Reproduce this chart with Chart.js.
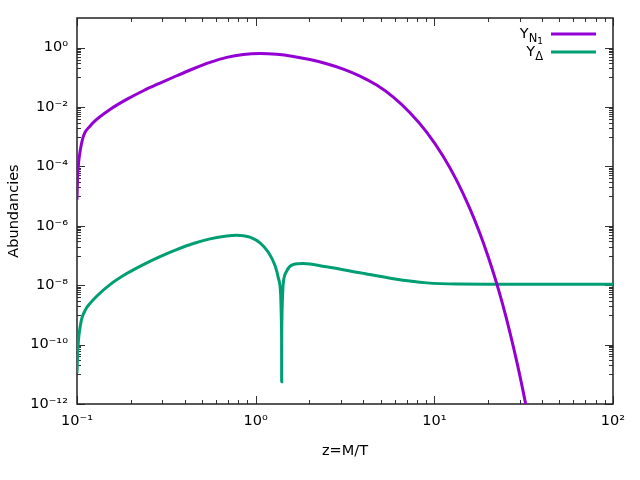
<!DOCTYPE html>
<html><head><meta charset="utf-8">
<script src="https://cdn.jsdelivr.net/npm/chart.js@4"></script>
<style>html,body{margin:0;padding:0;background:#fff}canvas{display:block}</style>
</head><body>
<canvas id="c" width="640" height="480"></canvas>
<script>
// ---- data ----
const zN = [0.1, 0.1008, 0.1018, 0.1031, 0.1086, 0.1183, 0.1288, 0.1530, 0.1897, 0.2351, 0.2915, 0.3613, 0.4479, 0.5552, 0.6882, 0.8531, 1.0573, 1.3106, 1.6246, 2.0137, 2.4962, 3.0942, 3.8355, 4.7544, 5.8935, 7.3053, 9.0557, 11.225, 13.332, 15.70, 17.91, 19.95, 22.18, 24.21, 26.42, 29.11, 31.99, 33.88];
const yN = [7.6e-6, 5.0e-5, 1.12e-4, 2.23e-4, 1.05e-3, 2.29e-3, 3.83e-3, 8.32e-3, 1.81e-2, 3.55e-2, 6.43e-2, 0.1135, 0.1955, 0.3195, 0.471, 0.594, 0.642, 0.602, 0.509, 0.398, 0.288, 0.1905, 0.1106, 0.055, 0.0217, 6.43e-3, 1.43e-3, 2.16e-4, 3.39e-5, 4.17e-6, 5.96e-7, 9.66e-8, 1.32e-8, 2.09e-9, 2.75e-10, 2.29e-11, 1.55e-12, 2.63e-13];
const zD = [0.1, 0.1008, 0.1022, 0.1045, 0.1066, 0.1116, 0.1183, 0.1289, 0.1530, 0.1897, 0.2351, 0.2915, 0.3613, 0.4479, 0.5552, 0.6882, 0.783, 0.8531, 0.929, 1.0573, 1.177, 1.283, 1.339, 1.380, 1.388, 1.394, 1.397, 1.398, 1.399, 1.402, 1.41, 1.418, 1.428, 1.491, 1.625, 1.848, 2.496, 3.836, 5.894, 9.056, 13.33, 20, 50, 100];
const yD = [1.12e-11, 5.0e-11, 1.7e-10, 4.47e-10, 7.94e-10, 1.51e-9, 2.45e-9, 4.27e-9, 1.05e-8, 2.47e-8, 4.97e-8, 9.25e-8, 1.59e-7, 2.54e-7, 3.64e-7, 4.54e-7, 4.78e-7, 4.66e-7, 4.15e-7, 2.67e-7, 1.29e-7, 4.6e-8, 1.77e-8, 4.84e-9, 1.58e-9, 5.0e-10, 1.26e-10, 5.6e-12, 1.26e-10, 6.3e-10, 2.8e-9, 6.3e-9, 1.2e-8, 2.97e-8, 4.97e-8, 5.37e-8, 4.17e-8, 2.63e-8, 1.66e-8, 1.2e-8, 1.09e-8, 1.08e-8, 1.08e-8, 1.08e-8];
const seriesLabels = ['Y_N1', 'Y_Δ'];
const seriesColors = ['#9400d3', '#009e73'];
const xTickValues = [0.1, 1, 10, 100];
const xTickLabels = ['10⁻¹', '10⁰', '10¹', '10²'];
const yTickValues = [1e-12, 1e-10, 1e-8, 1e-6, 1e-4, 1e-2, 1];
const yTickLabels = ['10⁻¹²', '10⁻¹⁰', '10⁻⁸', '10⁻⁶', '10⁻⁴', '10⁻²', '10⁰'];
const xTitle = 'z=M/T';
const yTitle = 'Abundancies';

const FONT = 'DejaVu Sans';

function pts(xs, ys){ return xs.map((x,i)=>({x:x, y:ys[i]})); }

// minor tick positions (axis decoration)
const xMinor = [];
for (let e=-1;e<2;e++) for (let k=2;k<=9;k++) xMinor.push(k*Math.pow(10,e));
const yMinor = [];
for (let e=-11;e<=-1;e+=2) for (let k=1;k<=9;k++) yMinor.push(k*Math.pow(10,e));

const frame = {
  id:'frame',
  beforeDatasetsDraw(chart){
    const {ctx, chartArea:a, scales:{x, y}} = chart;
    ctx.save();
    ctx.strokeStyle = '#333'; ctx.lineWidth = 1;
    ctx.beginPath();
    const tick = (px, len, vert) => {
      if (vert) {
        ctx.moveTo(px, a.bottom); ctx.lineTo(px, a.bottom-len);
        ctx.moveTo(px, a.top); ctx.lineTo(px, a.top+len);
      } else {
        ctx.moveTo(a.left, px); ctx.lineTo(a.left+len, px);
        ctx.moveTo(a.right, px); ctx.lineTo(a.right-len, px);
      }
    };
    xTickValues.forEach(v=>tick(Math.round(x.getPixelForValue(v))+0.5, 8, true));
    xMinor.forEach(v=>tick(Math.round(x.getPixelForValue(v))+0.5, 4, true));
    yTickValues.forEach(v=>tick(Math.round(y.getPixelForValue(v))+0.5, 8, false));
    yMinor.forEach(v=>tick(Math.round(y.getPixelForValue(v))+0.5, 4, false));
    ctx.stroke();
    ctx.lineWidth = 1.5; ctx.strokeStyle = '#222';
    ctx.strokeRect(a.left, a.top, a.right-a.left, a.bottom-a.top);
    ctx.restore();
  }
};

const legendPlugin = {
  id:'legendG',
  afterDraw(chart){
    const ctx = chart.ctx;
    ctx.save();
    const textRight = 543, x0 = 551, x1 = 596;
    const rows = [34, 52];
    ctx.fillStyle = '#000'; ctx.textBaseline = 'alphabetic'; ctx.textAlign = 'left';
    ctx.font = '14.5px ' + FONT; const wY = ctx.measureText('Y').width;
    ctx.font = '11.5px ' + FONT; const wN = ctx.measureText('N').width;
    ctx.font = '9px ' + FONT; const w1 = ctx.measureText('1').width;
    let sx = textRight - (wY + wN + w1);
    let base = rows[0] + 5;
    ctx.font = '14.5px ' + FONT; ctx.fillText('Y', sx, base - 1);
    ctx.font = '11.5px ' + FONT; ctx.fillText('N', sx + wY, base + 3);
    ctx.font = '9px ' + FONT; ctx.fillText('1', sx + wY + wN, base + 5);
    ctx.font = '11.5px ' + FONT; const wD = ctx.measureText('Δ').width;
    sx = textRight - (wY + wD);
    base = rows[1] + 5;
    ctx.font = '14.5px ' + FONT; ctx.fillText('Y', sx, base - 1);
    ctx.font = '11.5px ' + FONT; ctx.fillText('Δ', sx + wY, base + 3);
    rows.forEach((ry,i)=>{
      ctx.strokeStyle = seriesColors[i]; ctx.lineWidth = 3;
      ctx.beginPath(); ctx.moveTo(x0, ry); ctx.lineTo(x1, ry); ctx.stroke();
    });
    ctx.restore();
  }
};

new Chart(document.getElementById('c'), {
  type:'line',
  data:{ datasets:[
    {label:seriesLabels[0], data:pts(zN,yN), borderColor:seriesColors[0], borderWidth:3, pointRadius:0, fill:false, cubicInterpolationMode:'monotone'},
    {label:seriesLabels[1], data:pts(zD,yD), borderColor:seriesColors[1], borderWidth:3, pointRadius:0, fill:false, cubicInterpolationMode:'monotone'}
  ]},
  options:{
    responsive:false, animation:false, devicePixelRatio:1,
    layout:{padding:{top:18, right:27, left:0, bottom:0}},
    plugins:{legend:{display:false}, tooltip:{enabled:false}},
    scales:{
      x:{type:'logarithmic', min:0.1, max:100,
        afterBuildTicks(s){ s.ticks = xTickValues.map(v=>({value:v})); },
        afterFit(s){ s.height = 76; },
        grid:{display:false, drawTicks:false}, border:{display:false},
        ticks:{padding:9, color:'#000', font:{family:FONT, size:14.5}, maxRotation:0, autoSkip:false,
          callback(v){ const i = xTickValues.findIndex(t=>Math.abs(t-v)/t<1e-6); return i>=0?xTickLabels[i]:''; }},
        title:{display:true, text:xTitle, color:'#000', font:{family:FONT, size:14.5}, padding:{top:0,bottom:20}}
      },
      y:{type:'logarithmic', min:1e-12, max:10,
        afterBuildTicks(s){ s.ticks = yTickValues.map(v=>({value:v})); },
        afterFit(s){ s.width = 77; },
        grid:{display:false, drawTicks:false}, border:{display:false},
        ticks:{padding:9, color:'#000', font:{family:FONT, size:14.5}, autoSkip:false,
          callback(v){ const i = yTickValues.findIndex(t=>Math.abs(t-v)/t<1e-6); return i>=0?yTickLabels[i]:''; }},
        title:{display:true, text:yTitle, color:'#000', font:{family:FONT, size:14.5}, padding:{top:6,bottom:0}}
      }
    }
  },
  plugins:[frame, legendPlugin]
});
</script>
</body></html>
